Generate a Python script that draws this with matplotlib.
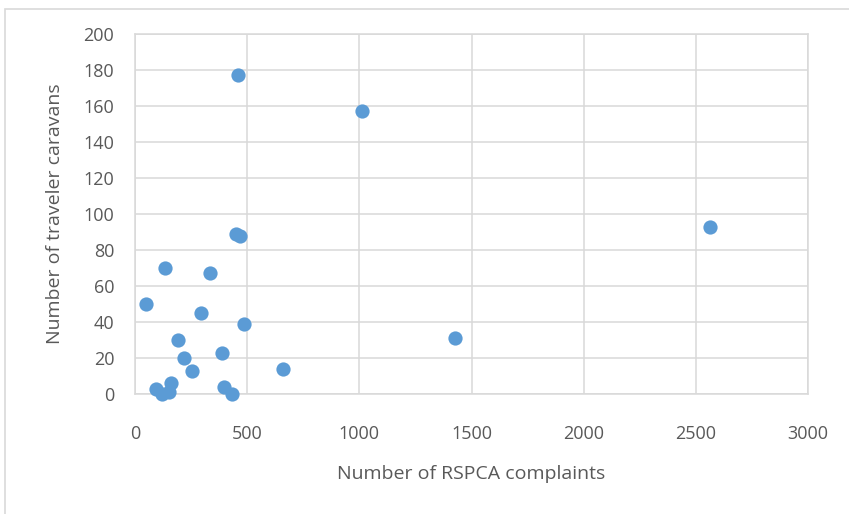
import matplotlib.pyplot as plt
from matplotlib.patches import Rectangle

# RSPCA complaints vs traveller caravans
complaints = [459, 1012, 450, 468, 2563, 134, 336, 49, 293, 485, 1427,
              193, 389, 218, 254, 661, 160, 92, 122, 153, 397, 431]
caravans = [177, 157, 89, 88, 93, 70, 67, 50, 45, 39, 31,
            30, 23, 20, 13, 14, 6, 3, 0, 1, 4, 0]

x_ticks = [0, 500, 1000, 1500, 2000, 2500, 3000]
y_ticks = list(range(0, 201, 20))

plt.rcParams['font.family'] = ['Open Sans', 'DejaVu Sans']

fig = plt.figure(figsize=(8.49, 5.14), dpi=100)
ax = fig.add_axes([135 / 849, 1 - 394 / 514, 673 / 849, 360 / 514])

# cadre gris autour du graphique
fig.patches.append(Rectangle((5 / 849, -0.05), 1.1, 1 - 9 / 514 + 0.05,
                             transform=fig.transFigure, fill=False,
                             edgecolor='#D9D9D9', linewidth=1.2))

ax.scatter(complaints, caravans, s=105, color='#5B9BD5', zorder=3,
           linewidths=0, clip_on=False)

ax.set_xlim(0, 3000)
ax.set_ylim(0, 200)
ax.set_xticks(x_ticks)
ax.set_yticks(y_ticks)
ax.grid(True, color='#D9D9D9', linewidth=1.1)
for s in ax.spines.values():
    s.set_color('#D9D9D9')
    s.set_linewidth(1.1)
ax.tick_params(length=0, labelsize=13, colors='#595959')
ax.tick_params(axis='y', pad=15)
ax.tick_params(axis='x', pad=22)

ax.set_xlabel('Number of RSPCA complaints', fontsize=14, color='#595959',
              labelpad=16)
ax.set_ylabel('Number of traveler caravans', fontsize=14, color='#595959',
              labelpad=14)

fig.savefig('out.png', dpi=100)
